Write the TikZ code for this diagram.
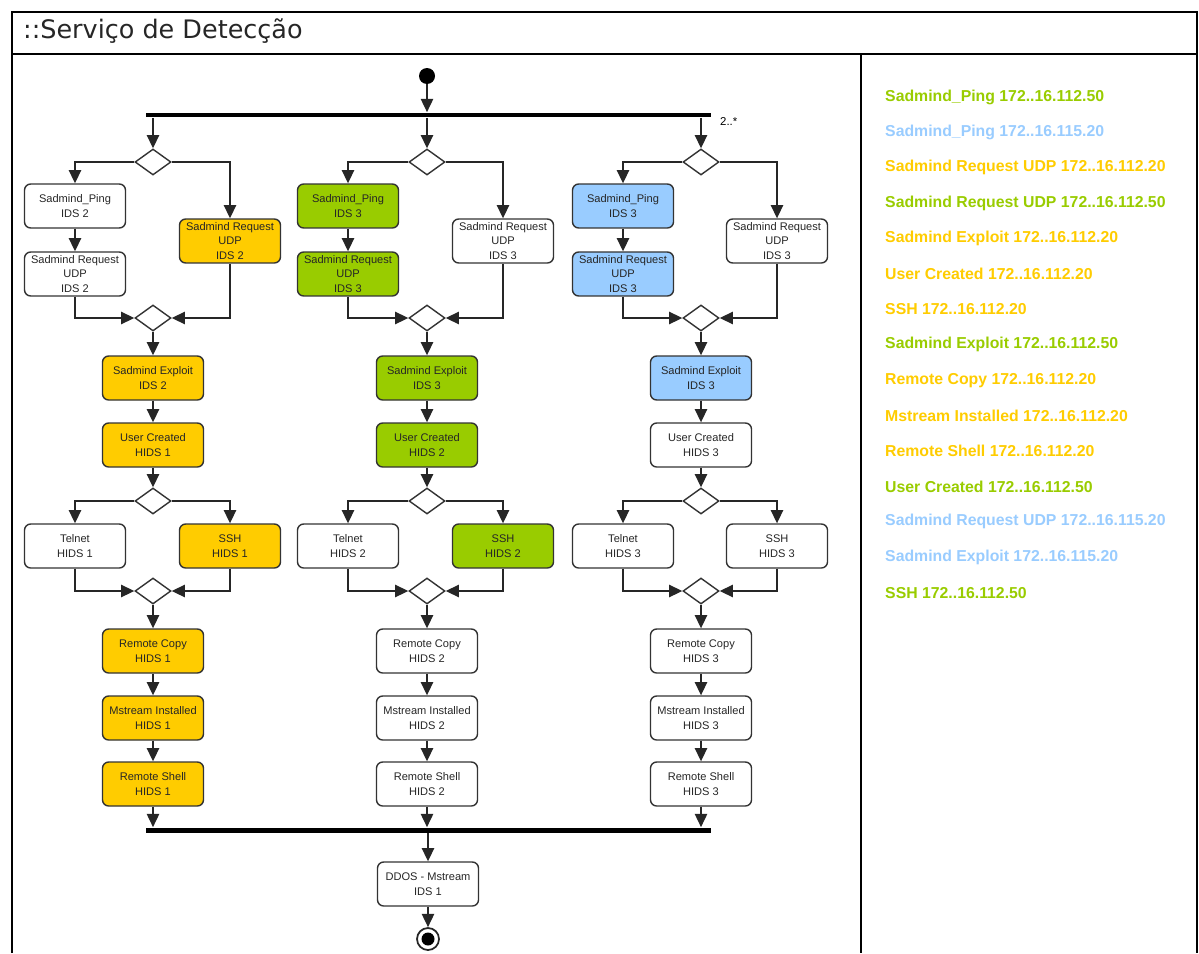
\documentclass[tikz,border=0pt]{standalone}
\usepackage{fontspec}
\setmainfont{Liberation Sans}
\newfontfamily\titlefont{DejaVu Sans}
\usetikzlibrary{shapes.geometric,arrows.meta}
\definecolor{ambar}{HTML}{FFCC00}
\definecolor{verde}{HTML}{99CC00}
\definecolor{azul}{HTML}{99CCFF}

\begin{document}
\begin{tikzpicture}[x=0.02cm,y=-0.02cm,
		acao/.style={draw=black!80, line width=0.8pt, rounded corners=3.5pt, minimum width=2.02cm, minimum height=0.88cm, inner sep=1pt, align=center, font=\fontsize{6.3}{8.4}\selectfont, text=black!85},
		decisao/.style={diamond, draw=black!80, line width=0.8pt, fill=white, minimum width=0.72cm, minimum height=0.52cm, inner sep=0pt},
		barra/.style={fill=black, inner sep=0pt, minimum width=11.3cm, minimum height=0.1cm},
		seta/.style={-{Triangle[length=7.5pt,width=7pt]}, line width=0.8pt, draw=black!85},
		legenda/.style={anchor=west, font=\bfseries\fontsize{9}{10}\selectfont}]
		\useasboundingbox (0,0) rectangle (1199,953);
		
		\draw[line width=1.4pt] (12,953) -- (12,12) -- (1197,12) -- (1197,953);
		\draw[line width=1pt] (12,54) -- (1197,54);
		\draw[line width=1pt] (861,54) -- (861,953);
		\node[anchor=west, font=\titlefont\fontsize{14.5}{16}\selectfont, text=black!85] (titulo) at (17,31) {::Serviço de Detecção};
		
		\node[circle, fill=black, minimum size=0.32cm, inner sep=0pt] (inicio) at (427,76) {};
		\node[barra] (fork) at (428.5,115) {};
		\node[anchor=west, font=\fontsize{6.5}{7}\selectfont] (mult) at (714,122) {2..*};
		\draw[seta] (inicio) -- (inicio |- fork.north);
		
		\node[decisao] (aDec1) at (153,162) {};
		\node[acao] (aPing) at (75,206) {Sadmind\_Ping\\IDS 2};
		\node[acao] (aReq) at (75,274) {Sadmind Request\\UDP\\IDS 2};
		\node[acao, fill=ambar] (aUdp) at (230,241) {Sadmind Request\\UDP\\IDS 2};
		\node[decisao] (aDec2) at (153,318) {};
		\node[acao, fill=ambar] (aExp) at (153,378) {Sadmind Exploit\\IDS 2};
		\node[acao, fill=ambar] (aUser) at (153,445) {User Created\\HIDS 1};
		\node[decisao] (aDec3) at (153,501) {};
		\node[acao] (aTel) at (75,546) {Telnet\\HIDS 1};
		\node[acao, fill=ambar] (aSsh) at (230,546) {SSH\\HIDS 1};
		\node[decisao] (aDec4) at (153,591) {};
		\node[acao, fill=ambar] (aCopy) at (153,651) {Remote Copy\\HIDS 1};
		\node[acao, fill=ambar] (aMst) at (153,718) {Mstream Installed\\HIDS 1};
		\node[acao, fill=ambar] (aShell) at (153,784) {Remote Shell\\HIDS 1};
		
		\node[decisao] (bDec1) at (427,162) {};
		\node[acao, fill=verde] (bPing) at (348,206) {Sadmind\_Ping\\IDS 3};
		\node[acao, fill=verde] (bReq) at (348,274) {Sadmind Request\\UDP\\IDS 3};
		\node[acao] (bUdp) at (503,241) {Sadmind Request\\UDP\\IDS 3};
		\node[decisao] (bDec2) at (427,318) {};
		\node[acao, fill=verde] (bExp) at (427,378) {Sadmind Exploit\\IDS 3};
		\node[acao, fill=verde] (bUser) at (427,445) {User Created\\HIDS 2};
		\node[decisao] (bDec3) at (427,501) {};
		\node[acao] (bTel) at (348,546) {Telnet\\HIDS 2};
		\node[acao, fill=verde] (bSsh) at (503,546) {SSH\\HIDS 2};
		\node[decisao] (bDec4) at (427,591) {};
		\node[acao] (bCopy) at (427,651) {Remote Copy\\HIDS 2};
		\node[acao] (bMst) at (427,718) {Mstream Installed\\HIDS 2};
		\node[acao] (bShell) at (427,784) {Remote Shell\\HIDS 2};
		
		\node[decisao] (cDec1) at (701,162) {};
		\node[acao, fill=azul] (cPing) at (623,206) {Sadmind\_Ping\\IDS 3};
		\node[acao, fill=azul] (cReq) at (623,274) {Sadmind Request\\UDP\\IDS 3};
		\node[acao] (cUdp) at (777,241) {Sadmind Request\\UDP\\IDS 3};
		\node[decisao] (cDec2) at (701,318) {};
		\node[acao, fill=azul] (cExp) at (701,378) {Sadmind Exploit\\IDS 3};
		\node[acao] (cUser) at (701,445) {User Created\\HIDS 3};
		\node[decisao] (cDec3) at (701,501) {};
		\node[acao] (cTel) at (623,546) {Telnet\\HIDS 3};
		\node[acao] (cSsh) at (777,546) {SSH\\HIDS 3};
		\node[decisao] (cDec4) at (701,591) {};
		\node[acao] (cCopy) at (701,651) {Remote Copy\\HIDS 3};
		\node[acao] (cMst) at (701,718) {Mstream Installed\\HIDS 3};
		\node[acao] (cShell) at (701,784) {Remote Shell\\HIDS 3};
		
		\node[barra] (join) at (428.5,830) {};
		\node[acao] (ddos) at (428,884) {DDOS - Mstream\\IDS 1};
		\node[circle, draw=black!85, line width=1pt, minimum size=0.44cm, inner sep=0pt] (fim) at (428,939) {};
		\node[circle, fill=black, minimum size=0.26cm, inner sep=0pt] (fimPonto) at (fim) {};
		
		\draw[seta] (aDec1 |- fork.south) -- (aDec1.north);
		\draw[seta] (aDec1.west) -| (aPing.north);
		\draw[seta] (aDec1.east) -| (aUdp.north);
		\draw[seta] (aPing) -- (aReq);
		\draw[seta] (aReq.south) |- (aDec2.west);
		\draw[seta] (aUdp.south) |- (aDec2.east);
		\draw[seta] (aDec2) -- (aExp);
		\draw[seta] (aExp) -- (aUser);
		\draw[seta] (aUser) -- (aDec3);
		\draw[seta] (aDec3.west) -| (aTel.north);
		\draw[seta] (aDec3.east) -| (aSsh.north);
		\draw[seta] (aTel.south) |- (aDec4.west);
		\draw[seta] (aSsh.south) |- (aDec4.east);
		\draw[seta] (aDec4) -- (aCopy);
		\draw[seta] (aCopy) -- (aMst);
		\draw[seta] (aMst) -- (aShell);
		\draw[seta] (aShell) -- (aShell |- join.north);
		
		\draw[seta] (bDec1 |- fork.south) -- (bDec1.north);
		\draw[seta] (bDec1.west) -| (bPing.north);
		\draw[seta] (bDec1.east) -| (bUdp.north);
		\draw[seta] (bPing) -- (bReq);
		\draw[seta] (bReq.south) |- (bDec2.west);
		\draw[seta] (bUdp.south) |- (bDec2.east);
		\draw[seta] (bDec2) -- (bExp);
		\draw[seta] (bExp) -- (bUser);
		\draw[seta] (bUser) -- (bDec3);
		\draw[seta] (bDec3.west) -| (bTel.north);
		\draw[seta] (bDec3.east) -| (bSsh.north);
		\draw[seta] (bTel.south) |- (bDec4.west);
		\draw[seta] (bSsh.south) |- (bDec4.east);
		\draw[seta] (bDec4) -- (bCopy);
		\draw[seta] (bCopy) -- (bMst);
		\draw[seta] (bMst) -- (bShell);
		\draw[seta] (bShell) -- (bShell |- join.north);
		
		\draw[seta] (cDec1 |- fork.south) -- (cDec1.north);
		\draw[seta] (cDec1.west) -| (cPing.north);
		\draw[seta] (cDec1.east) -| (cUdp.north);
		\draw[seta] (cPing) -- (cReq);
		\draw[seta] (cReq.south) |- (cDec2.west);
		\draw[seta] (cUdp.south) |- (cDec2.east);
		\draw[seta] (cDec2) -- (cExp);
		\draw[seta] (cExp) -- (cUser);
		\draw[seta] (cUser) -- (cDec3);
		\draw[seta] (cDec3.west) -| (cTel.north);
		\draw[seta] (cDec3.east) -| (cSsh.north);
		\draw[seta] (cTel.south) |- (cDec4.west);
		\draw[seta] (cSsh.south) |- (cDec4.east);
		\draw[seta] (cDec4) -- (cCopy);
		\draw[seta] (cCopy) -- (cMst);
		\draw[seta] (cMst) -- (cShell);
		\draw[seta] (cShell) -- (cShell |- join.north);
		
		\draw[seta] (join.south -| ddos) -- (ddos.north);
		\draw[seta] (ddos) -- (fim);
		
		\node[legenda, text=verde] (leg1) at (879,97) {Sadmind\_Ping 172..16.112.50};
		\node[legenda, text=azul] (leg2) at (879,132.4) {Sadmind\_Ping 172..16.115.20};
		\node[legenda, text=ambar] (leg3) at (879,167.8) {Sadmind Request UDP 172..16.112.20};
		\node[legenda, text=verde] (leg4) at (879,203.2) {Sadmind Request UDP 172..16.112.50};
		\node[legenda, text=ambar] (leg5) at (879,238.6) {Sadmind Exploit 172..16.112.20};
		\node[legenda, text=ambar] (leg6) at (879,274) {User Created 172..16.112.20};
		\node[legenda, text=ambar] (leg7) at (879,309.4) {SSH 172..16.112.20};
		\node[legenda, text=verde] (leg8) at (879,344.8) {Sadmind Exploit 172..16.112.50};
		\node[legenda, text=ambar] (leg9) at (879,380.2) {Remote Copy 172..16.112.20};
		\node[legenda, text=ambar] (leg10) at (879,415.6) {Mstream Installed 172..16.112.20};
		\node[legenda, text=ambar] (leg11) at (879,451) {Remote Shell 172..16.112.20};
		\node[legenda, text=verde] (leg12) at (879,486.4) {User Created 172..16.112.50};
		\node[legenda, text=azul] (leg13) at (879,521.8) {Sadmind Request UDP 172..16.115.20};
		\node[legenda, text=azul] (leg14) at (879,557.2) {Sadmind Exploit 172..16.115.20};
		\node[legenda, text=verde] (leg15) at (879,592.6) {SSH 172..16.112.50};
	\end{tikzpicture}
\end{document}
